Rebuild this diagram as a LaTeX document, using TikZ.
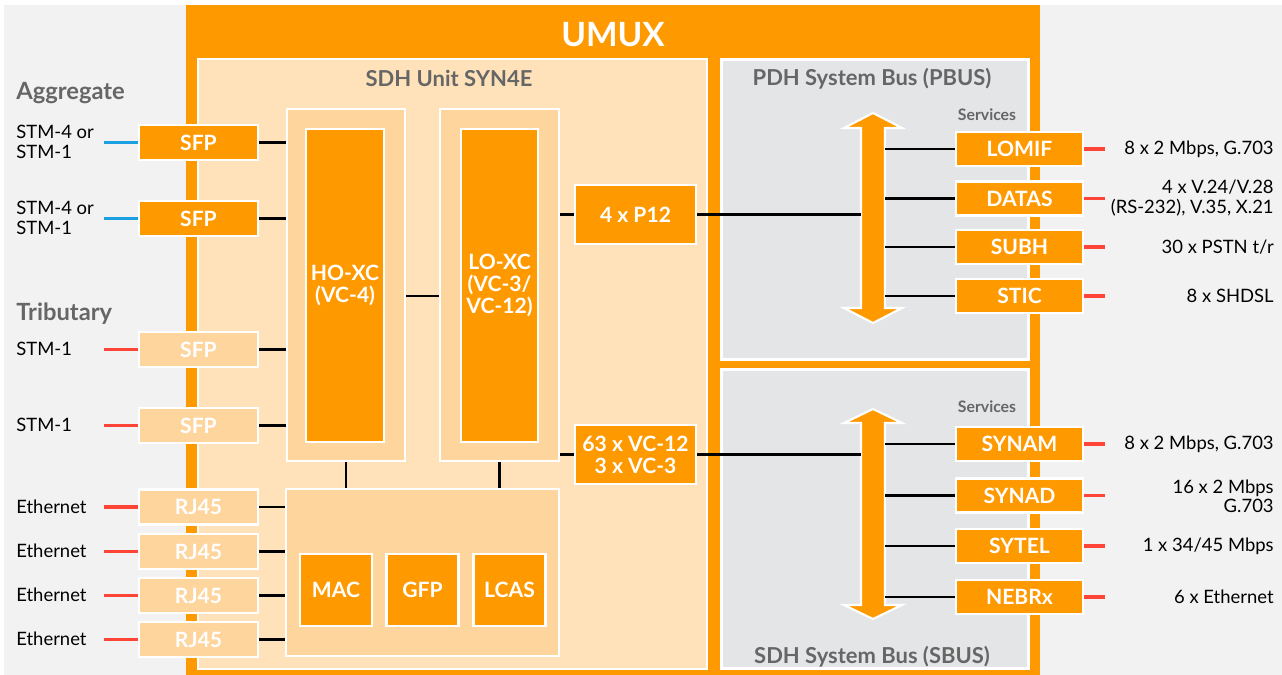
\documentclass[tikz,border=0pt]{standalone}
\usepackage{fontspec}
\setmainfont{Lato}
\usepackage{xcolor}
\usepackage{tikz}
\usetikzlibrary{positioning}

\definecolor{umuxorange}{RGB}{255,153,0}
\definecolor{peachlight}{RGB}{255,226,185}
\definecolor{peachmid}{RGB}{255,213,158}
\definecolor{panelgray}{RGB}{228,229,231}
\definecolor{bggray}{RGB}{242,242,242}
\definecolor{titlegray}{RGB}{102,102,102}
\definecolor{portred}{RGB}{255,68,56}
\definecolor{portblue}{RGB}{27,161,226}

\begin{document}
\begin{tikzpicture}[
    x=0.02cm, y=-0.02cm,
    ramme/.style={rectangle, draw=white, line width=1.2pt, inner sep=0pt},
    boks/.style={ramme, fill=umuxorange, text=white, align=center,
        font=\fontsize{12}{12.4}\selectfont\bfseries},
    lysboks/.style={boks, fill=peachmid},
    port/.style={boks, minimum width=2.38cm, minimum height=0.7cm},
    lysport/.style={lysboks, minimum width=2.38cm, minimum height=0.7cm},
    tjeneste/.style={boks, minimum width=2.54cm, minimum height=0.68cm},
    tittel/.style={text=titlegray, font=\fontsize{12.5}{14}\selectfont\bfseries},
    venstre/.style={anchor=west, align=left, inner sep=0pt, font=\fontsize{10.5}{11.4}\selectfont},
    hoyre/.style={anchor=east, align=right, inner sep=0pt, font=\fontsize{10.5}{11}\selectfont},
    kobling/.style={draw=black, line width=1.4pt},
    rodlinje/.style={draw=portred, line width=1.8pt},
    blalinje/.style={draw=portblue, line width=1.8pt},
    buss/.style={fill=umuxorange, draw=white, line width=1.2pt}
]
\useasboundingbox (0,0) rectangle (1282,675);
\fill[bggray] (4,5) rectangle (1282,675);

% UMUX and its panels
\node[rectangle, fill=umuxorange, minimum width=17.08cm, minimum height=13.4cm] (umux) at (613,340) {};
\node[text=white, font=\fontsize{19}{21}\selectfont\bfseries] (umuxnavn) at (613,35) {UMUX};

\node[ramme, fill=peachlight, minimum width=10.18cm, minimum height=12.2cm] (syn4e) at (452.5,364) {};
\node[tittel] (syn4enavn) at (449,78) {SDH Unit SYN4E};

\node[ramme, fill=panelgray, minimum width=6.14cm, minimum height=6.0cm] (pbus) at (875,209.5) {};
\node[tittel] (pbusnavn) at (872,79) {PDH System Bus (PBUS)};

\node[ramme, fill=panelgray, minimum width=6.14cm, minimum height=5.98cm] (sbus) at (875,519) {};
\node[tittel] (sbusnavn) at (872,657) {SDH System Bus (SBUS)};

% cross connects
\node[ramme, fill=peachmid, minimum width=2.36cm, minimum height=7.04cm] (ho) at (346,285) {};
\node[boks, minimum width=1.56cm, minimum height=6.26cm] (hoxc) at (345,285.5) {HO-XC\\(VC-4)};

\node[ramme, fill=peachmid, minimum width=2.38cm, minimum height=7.04cm] (lo) at (499.5,285) {};
\node[boks, minimum width=1.54cm, minimum height=6.26cm] (loxc) at (499.5,285.5) {LO-XC\\(VC-3/\\VC-12)};

\node[boks, minimum width=2.42cm, minimum height=1.18cm] (p12) at (635.5,214.5) {4 x P12};
\node[boks, minimum width=2.42cm, minimum height=1.18cm] (vc12) at (635.5,454.5) {63 x VC-12\\3 x VC-3};

% ethernet block
\node[ramme, fill=peachmid, minimum width=5.46cm, minimum height=3.34cm] (eth) at (422.5,572.5) {};
\node[boks, minimum width=1.44cm, minimum height=1.44cm] (mac) at (336,590) {MAC};
\node[boks, minimum width=1.44cm, minimum height=1.44cm] (gfp) at (422.5,590) {GFP};
\node[boks, minimum width=1.44cm, minimum height=1.44cm] (lcas) at (509.5,590) {LCAS};

% ports
\node[port] (sfpa) at (198.5,142.5) {SFP};
\node[port] (sfpb) at (198.5,218.5) {SFP};
\node[lysport] (sfpc) at (198.5,349.5) {SFP};
\node[lysport] (sfpd) at (198.5,425.5) {SFP};
\node[lysport] (rja) at (198.5,507) {RJ45};
\node[lysport] (rjb) at (198.5,551.5) {RJ45};
\node[lysport] (rjc) at (198.5,595.5) {RJ45};
\node[lysport] (rjd) at (198.5,639.5) {RJ45};

\node[tittel, anchor=west, inner sep=0pt, font=\fontsize{13.5}{15}\selectfont\bfseries] (aggregat) at (16,93) {Aggregate};
\node[tittel, anchor=west, inner sep=0pt, font=\fontsize{13.5}{15}\selectfont\bfseries] (tributar) at (16,314) {Tributary};
\node[venstre] (lsfpa) at (16,142) {STM-4 or\\STM-1};
\node[venstre] (lsfpb) at (16,218) {STM-4 or\\STM-1};
\node[venstre] (lsfpc) at (16,349) {STM-1};
\node[venstre] (lsfpd) at (16,425) {STM-1};
\node[venstre] (lrja) at (16,507) {Ethernet};
\node[venstre] (lrjb) at (16,551) {Ethernet};
\node[venstre] (lrjc) at (16,595) {Ethernet};
\node[venstre] (lrjd) at (16,639) {Ethernet};

% system buses
\filldraw[buss] (873,113) -- (902,128) -- (885,128) -- (885,308) -- (902,308) -- (873,323)
    -- (844,308) -- (861,308) -- (861,128) -- (844,128) -- cycle;
\coordinate (pbusv) at (861,218);
\coordinate (pbush) at (885,218);
\filldraw[buss] (873,409) -- (902,423) -- (885,423) -- (885,605) -- (902,605) -- (873,619)
    -- (844,605) -- (861,605) -- (861,423) -- (844,423) -- cycle;
\coordinate (sbusv) at (861,514);
\coordinate (sbush) at (885,514);

% services
\node[tittel, font=\fontsize{9}{10}\selectfont\bfseries] (ptjenester) at (987,115) {Services};
\node[tjeneste] (lomif) at (1019.5,149) {LOMIF};
\node[tjeneste] (datas) at (1019.5,198.5) {DATAS};
\node[tjeneste] (subh) at (1019.5,247) {SUBH};
\node[tjeneste] (stic) at (1019.5,296) {STIC};

\node[tittel, font=\fontsize{9}{10}\selectfont\bfseries] (stjenester) at (987,407) {Services};
\node[tjeneste] (synam) at (1019.5,444) {SYNAM};
\node[tjeneste] (synad) at (1019.5,495.5) {SYNAD};
\node[tjeneste] (sytel) at (1019.5,546) {SYTEL};
\node[tjeneste] (nebrx) at (1019.5,597) {NEBRx};

\node[hoyre] (llomif) at (1274,149) {8 x 2 Mbps, G.703};
\node[hoyre] (ldatas) at (1274,198) {4 x V.24/V.28\\(RS-232), V.35, X.21};
\node[hoyre] (lsubh) at (1274,247) {30 x PSTN t/r};
\node[hoyre] (lstic) at (1274,296) {8 x SHDSL};
\node[hoyre] (lsynam) at (1274,444) {8 x 2 Mbps, G.703};
\node[hoyre] (lsynad) at (1274,496) {16 x 2 Mbps\\G.703};
\node[hoyre] (lsytel) at (1274,546) {1 x 34/45 Mbps};
\node[hoyre] (lnebrx) at (1274,597) {6 x Ethernet};

% connections
\draw[blalinje] (sfpa.west) -- ++(-34,0);
\draw[blalinje] (sfpb.west) -- ++(-34,0);
\draw[rodlinje] (sfpc.west) -- ++(-34,0);
\draw[rodlinje] (sfpd.west) -- ++(-34,0);
\draw[rodlinje] (rja.west) -- ++(-34,0);
\draw[rodlinje] (rjb.west) -- ++(-34,0);
\draw[rodlinje] (rjc.west) -- ++(-34,0);
\draw[rodlinje] (rjd.west) -- ++(-34,0);

\draw[kobling] (sfpa.east) -- (sfpa.east -| ho.west);
\draw[kobling] (sfpb.east) -- (sfpb.east -| ho.west);
\draw[kobling] (sfpc.east) -- (sfpc.east -| ho.west);
\draw[kobling] (sfpd.east) -- (sfpd.east -| ho.west);
\draw[kobling] (rja.east) -- (rja.east -| eth.west);
\draw[kobling] (rjb.east) -- (rjb.east -| eth.west);
\draw[kobling] (rjc.east) -- (rjc.east -| eth.west);
\draw[kobling] (rjd.east) -- (rjd.east -| eth.west);

\draw[kobling] ([yshift=-0.22cm]ho.east) -- ([yshift=-0.22cm]lo.west);
\draw[kobling] (ho.south) -- (ho.south |- eth.north);
\draw[kobling] (lo.south) -- (lo.south |- eth.north);
\draw[kobling] (p12.west -| lo.east) -- (p12.west);
\draw[kobling] (vc12.west -| lo.east) -- (vc12.west);
\draw[kobling] (p12.east) -- (p12.east -| pbusv);
\draw[kobling] (vc12.east) -- (vc12.east -| sbusv);

\draw[kobling] (pbush |- lomif.west) -- (lomif.west);
\draw[kobling] (pbush |- datas.west) -- (datas.west);
\draw[kobling] (pbush |- subh.west) -- (subh.west);
\draw[kobling] (pbush |- stic.west) -- (stic.west);
\draw[kobling] (sbush |- synam.west) -- (synam.west);
\draw[kobling] (sbush |- synad.west) -- (synad.west);
\draw[kobling] (sbush |- sytel.west) -- (sytel.west);
\draw[kobling] (sbush |- nebrx.west) -- (nebrx.west);

\draw[rodlinje] (lomif.east) -- ++(21,0);
\draw[rodlinje] (datas.east) -- ++(21,0);
\draw[rodlinje] (subh.east) -- ++(21,0);
\draw[rodlinje] (stic.east) -- ++(21,0);
\draw[rodlinje] (synam.east) -- ++(21,0);
\draw[rodlinje] (synad.east) -- ++(21,0);
\draw[rodlinje] (sytel.east) -- ++(21,0);
\draw[rodlinje] (nebrx.east) -- ++(21,0);
\end{tikzpicture}
\end{document}
